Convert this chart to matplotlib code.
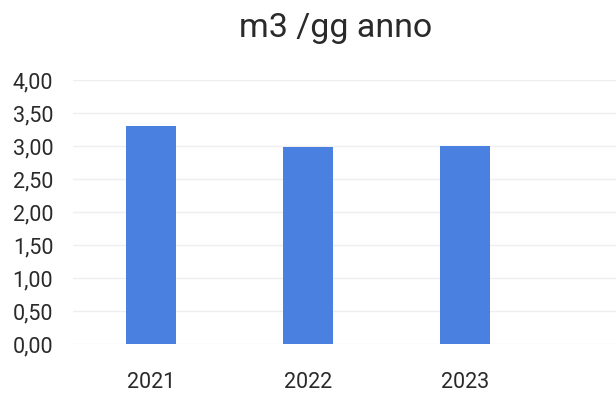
import numpy as np
import matplotlib
matplotlib.use("Agg")
from matplotlib import pyplot as plt

plt.rcParams['font.family'] = ['Roboto', 'DejaVu Sans']

years = ['2021', '2022', '2023']
values = [3.30, 2.99, 3.00]
y_ticks = [0, 0.5, 1, 1.5, 2, 2.5, 3, 3.5, 4]
y_labels = ['0,00', '0,50', '1,00', '1,50', '2,00', '2,50', '3,00', '3,50', '4,00']

fig = plt.figure(figsize=(6.16, 4.03), dpi=100)
ax = fig.add_axes([0.118, 0.146, 0.882, 0.655])

x = np.arange(len(years))
ax.bar(x, values, width=0.32, color='#4a80e0', zorder=2)

ax.set_xlim(-0.5, 2.96)
ax.set_ylim(0, 4)
ax.set_yticks(y_ticks)
ax.set_yticklabels(y_labels)
ax.set_xticks(x)
ax.set_xticklabels(years)
ax.grid(axis='y', color='#efefef', linewidth=1, zorder=0)
ax.tick_params(axis='both', length=0, labelsize=15.5, labelcolor='#2a2a2a')
ax.tick_params(axis='y', pad=14)
ax.tick_params(axis='x', pad=20)
for s in ax.spines.values():
    s.set_visible(False)

fig.text(0.545, 1 - 28 / 403, 'm3 /gg anno', ha='center', va='center',
         fontsize=24.5, color='#2a2a2a')

fig.savefig('out.png', dpi=100)
